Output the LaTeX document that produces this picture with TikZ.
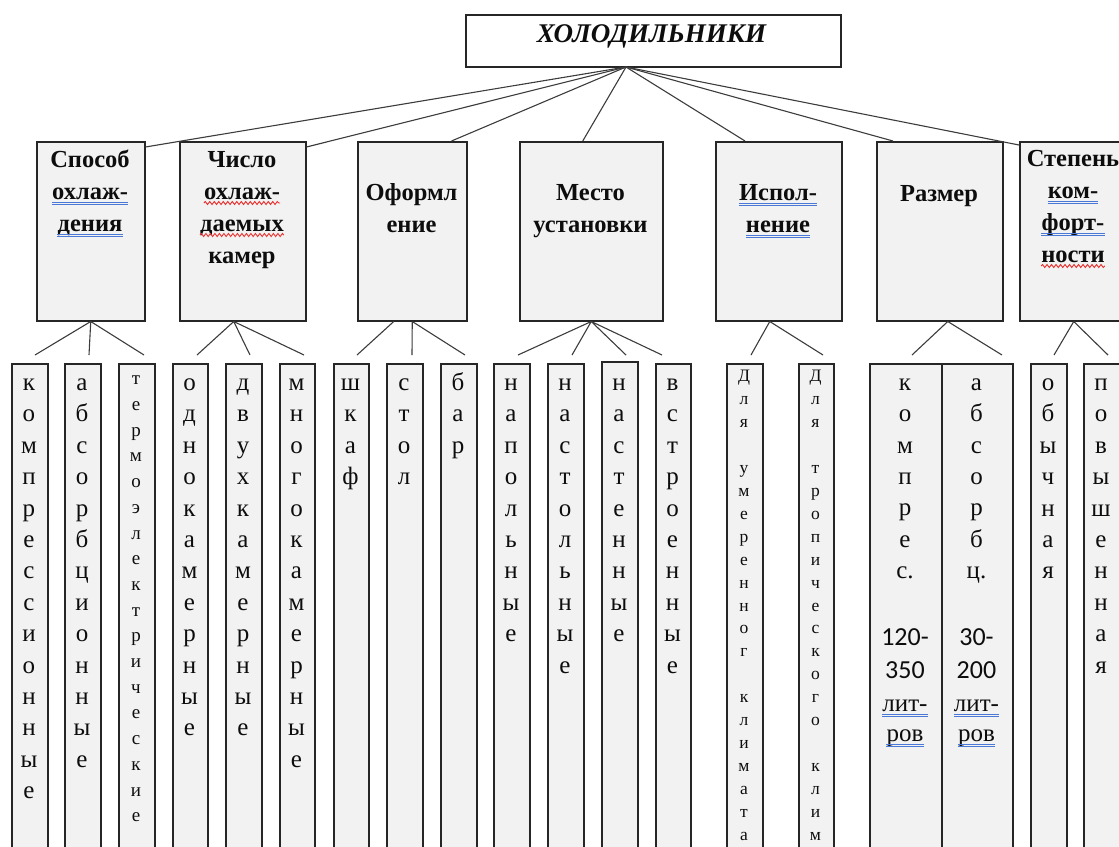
\documentclass[tikz,border=0pt]{standalone}
\usepackage{fontspec}
\setmainfont{Liberation Serif}
\newfontfamily\digitfont{Carlito}
\usetikzlibrary{decorations.pathmorphing}
\definecolor{boxfill}{HTML}{F2F2F2}
\definecolor{edgecol}{HTML}{262626}
\definecolor{conncol}{HTML}{3C3C3C}
\definecolor{ulblue}{HTML}{4A78D6}
\definecolor{ulred}{HTML}{E8312F}
\definecolor{inkcol}{HTML}{0D0D0D}
\tikzset{
  topbox/.style={draw=edgecol, line width=1.5pt, fill=white, rectangle, inner sep=0, anchor=north west, minimum height=52pt},
  catbox/.style={draw=edgecol, line width=1.5pt, fill=boxfill, rectangle, inner sep=0, anchor=north west, minimum height=179pt},
  leafbox/.style={draw=edgecol, line width=1.5pt, fill=boxfill, rectangle, inner sep=0, anchor=north west, minimum height=560pt},
  conn/.style={draw=conncol, line width=1.1pt},
  titletext/.style={font=\fontsize{27}{30}\selectfont\bfseries\itshape, text=inkcol, anchor=base, inner sep=0},
  cattext/.style={font=\fontsize{24.5}{28}\selectfont\bfseries, text=inkcol, anchor=base, inner sep=0},
  bigletter/.style={font=\fontsize{25}{30}\selectfont, text=inkcol, anchor=base, inner sep=0},
  midletter/.style={font=\fontsize{19}{24}\selectfont, text=inkcol, anchor=base, inner sep=0},
  smallletter/.style={font=\fontsize{17.5}{22}\selectfont, text=inkcol, anchor=base, inner sep=0},
  digittext/.style={font=\digitfont\fontsize{26}{30}\selectfont, text=inkcol, anchor=base, inner sep=0},
  blueline/.style={draw=ulblue, line width=0.9pt},
  redwave/.style={draw=ulred, line width=0.9pt, decorate, decoration={snake, amplitude=1.5pt, segment length=4.5pt}},
}
\newcommand\vletters[6]{%
  \foreach \ch [count=\i from 0] in {#6} {\node[#5] (#1-\i) at (#2, #3+\i*#4) {\ch};}}
\newcommand\dblul[1]{\draw[blueline] ([yshift=-3pt]#1.base west) -- ([yshift=-3pt]#1.base east) ([yshift=-5.8pt]#1.base west) -- ([yshift=-5.8pt]#1.base east);}
\newcommand\wavyul[1]{\draw[redwave] ([yshift=-4pt]#1.base west) -- ([yshift=-4pt]#1.base east);}
\begin{document}
\begin{tikzpicture}[x=1pt,y=-1pt]
\useasboundingbox (0,0) rectangle (1119,846);
\clip (0,0) rectangle (1119,846);

% top box
\node[topbox, minimum width=375pt] (top) at (465,14) {};
\node[titletext] (title) at (651.5,42) {ХОЛОДИЛЬНИКИ};
\coordinate (topo) at (626,67);

% category boxes
\node[catbox, minimum width=108pt] (b1) at (36,141) {};
\node[catbox, minimum width=126pt] (b2) at (179,141) {};
\node[catbox, minimum width=109pt] (b3) at (357,141) {};
\node[catbox, minimum width=143pt] (b4) at (519,141) {};
\node[catbox, minimum width=126pt] (b5) at (715,141) {};
\node[catbox, minimum width=126pt] (b6) at (876,141) {};
\node[catbox, minimum width=108pt] (b7) at (1019,141) {};

% top connectors
\draw[conn] (topo) -- ([yshift=-6pt]b1.north east);
\draw[conn] (topo) -- ([yshift=-6pt]b2.north east);
\draw[conn] (topo) -- ([xshift=-16pt]b3.north east);
\draw[conn] (topo) -- ([xshift=-8.5pt]b4.north);
\draw[conn] (topo) -- ([xshift=30pt]b5.north west);
\draw[conn] (topo) -- ([xshift=17pt]b6.north west);
\draw[conn] (topo) -- ([yshift=-4pt]b7.north west);

% category texts
\node[cattext] (b1t1) at (90,167) {Способ};
\node[cattext] (b1t2) at (90,199) {охлаж-};
\node[cattext] (b1t3) at (90,231) {дения};
\node[cattext] (b2t1) at (242,167) {Число};
\node[cattext] (b2t2) at (242,199) {охлаж-};
\node[cattext] (b2t3) at (242,231) {даемых};
\node[cattext] (b2t4) at (242,263) {камер};
\node[cattext] (b3t1) at (411.5,200) {Оформл};
\node[cattext] (b3t2) at (411.5,232) {ение};
\node[cattext] (b4t1) at (590.5,200) {Место};
\node[cattext] (b4t2) at (590.5,232) {установки};
\node[cattext] (b5t1) at (778,200) {Испол-};
\node[cattext] (b5t2) at (778,232) {нение};
\node[cattext] (b6t1) at (939,201) {Размер};
\node[cattext] (b7t1) at (1073,166) {Степень};
\node[cattext] (b7t2) at (1073,198) {ком-};
\node[cattext] (b7t3) at (1073,230) {форт-};
\node[cattext] (b7t4) at (1073,262) {ности};

\dblul{b1t2}\dblul{b1t3}
\wavyul{b2t2}\wavyul{b2t3}
\dblul{b5t1}\dblul{b5t2}
\dblul{b7t2}\dblul{b7t3}\wavyul{b7t4}

% end points of lower connectors
\coordinate (e1a) at (35,355);  \coordinate (e1b) at (89,355);  \coordinate (e1c) at (144,355);
\coordinate (e2a) at (197,355); \coordinate (e2b) at (250,355); \coordinate (e2c) at (304,355);
\coordinate (e3a) at (357,355); \coordinate (e3b) at (412,355); \coordinate (e3c) at (465,355);
\coordinate (e4a) at (518,355); \coordinate (e4b) at (572,355); \coordinate (e4c) at (626,355); \coordinate (e4d) at (662,355);
\coordinate (e5a) at (751,355); \coordinate (e5b) at (823,355);
\coordinate (e6a) at (912,355); \coordinate (e6b) at (1002,355);
\coordinate (e7a) at (1054,355); \coordinate (e7b) at (1108,355);

\draw[conn] (b1.south) -- (e1a) (b1.south) -- (e1b) (b1.south) -- (e1c);
\draw[conn] ([xshift=-9pt]b2.south) -- (e2a) ([xshift=-9pt]b2.south) -- (e2b) ([xshift=-9pt]b2.south) -- (e2c);
\draw[conn] ([xshift=-18.5pt]b3.south) -- (e3a) (b3.south) -- (e3b) (b3.south) -- (e3c);
\draw[conn] (b4.south) -- (e4a) (b4.south) -- (e4b) (b4.south) -- (e4c) (b4.south) -- (e4d);
\draw[conn] ([xshift=-9pt]b5.south) -- (e5a) ([xshift=-9pt]b5.south) -- (e5b);
\draw[conn] ([xshift=8pt]b6.south) -- (e6a) ([xshift=8pt]b6.south) -- (e6b);
\draw[conn] (b7.south) -- (e7a) (b7.south) -- (e7b);

% leaf columns
\node[leafbox, minimum width=36pt] (l1) at (11,363) {};
\node[leafbox, minimum width=36pt] (l2) at (64,363) {};
\node[leafbox, minimum width=36pt] (l3) at (118,363) {};
\node[leafbox, minimum width=35pt] (l4) at (172,363) {};
\node[leafbox, minimum width=36pt] (l5) at (225,363) {};
\node[leafbox, minimum width=35pt] (l6) at (279,363) {};
\node[leafbox, minimum width=35pt] (l7) at (333,363) {};
\node[leafbox, minimum width=36pt] (l8) at (386,363) {};
\node[leafbox, minimum width=36pt] (l9) at (440,363) {};
\node[leafbox, minimum width=36pt] (l10) at (493,363) {};
\node[leafbox, minimum width=36pt] (l11) at (547,363) {};
\node[leafbox, minimum width=36pt] (l12) at (601,361) {};
\node[leafbox, minimum width=35pt] (l13) at (655,363) {};
\node[leafbox, minimum width=36pt] (l14) at (726,363) {};
\node[leafbox, minimum width=35pt] (l15) at (798,363) {};
\node[leafbox, minimum width=72pt] (l16) at (869,363) {};
\node[leafbox, minimum width=71pt] (l17) at (941,363) {};
\node[leafbox, minimum width=36pt] (l18) at (1030,363) {};
\node[leafbox, minimum width=36pt] (l19) at (1083,363) {};

% letters
\vletters{k1}{29}{390.5}{31.4}{bigletter}{к,о,м,п,р,е,с,с,и,о,н,н,ы,е}
\vletters{k2}{82}{390.5}{31.4}{bigletter}{а,б,с,о,р,б,ц,и,о,н,н,ы,е}
\vletters{k3}{136}{384.8}{25.7}{midletter}{т,е,р,м,о,э,л,е,к,т,р,и,ч,е,с,к,и,е}
\vletters{k4}{189.5}{390.5}{31.4}{bigletter}{о,д,н,о,к,а,м,е,р,н,ы,е}
\vletters{k5}{243}{390.5}{31.4}{bigletter}{д,в,у,х,к,а,м,е,р,н,ы,е}
\vletters{k6}{296.5}{390.5}{31.4}{bigletter}{м,н,о,г,о,к,а,м,е,р,н,ы,е}
\vletters{k7}{350.5}{390.5}{31.4}{bigletter}{ш,к,а,ф}
\vletters{k8}{404}{390.5}{31.4}{bigletter}{с,т,о,л}
\vletters{k9}{458}{390.5}{31.4}{bigletter}{б,а,р}
\vletters{k10}{511}{390.5}{31.4}{bigletter}{н,а,п,о,л,ь,н,ы,е}
\vletters{k11}{565}{390.5}{31.4}{bigletter}{н,а,с,т,о,л,ь,н,ы,е}
\vletters{k12}{619}{390.5}{31.4}{bigletter}{н,а,с,т,е,н,н,ы,е}
\vletters{k13}{672.5}{390.5}{31.4}{bigletter}{в,с,т,р,о,е,н,н,ы,е}
\vletters{k14}{744}{381.5}{22.95}{smallletter}{Д,л,я,{},у,м,е,р,е,н,н,о,г,{},к,л,и,м,а,т,а}
\vletters{k15}{815.5}{381.5}{22.95}{smallletter}{Д,л,я,{},т,р,о,п,и,ч,е,с,к,о,г,о,{},к,л,и,м}
\vletters{k16}{905}{390.5}{31.3}{bigletter}{к,о,м,п,р,е,с.}
\vletters{k17}{976.5}{390.5}{31.3}{bigletter}{а,б,с,о,р,б,ц.}
\vletters{k18}{1048}{390.5}{31.4}{bigletter}{о,б,ы,ч,н,а,я}
\vletters{k19}{1101}{390.5}{31.4}{bigletter}{п,о,в,ы,ш,е,н,н,а,я}

\node[digittext] (n1a) at (905,645) {120-};
\node[digittext] (n1b) at (905,678) {350};
\node[bigletter] (n1c) at (905,711) {лит-};
\node[bigletter] (n1d) at (905,741) {ров};
\node[digittext] (n2a) at (976.5,645) {30-};
\node[digittext] (n2b) at (976.5,678) {200};
\node[bigletter] (n2c) at (976.5,711) {лит-};
\node[bigletter] (n2d) at (976.5,741) {ров};
\dblul{n1c}\dblul{n1d}\dblul{n2c}\dblul{n2d}
\end{tikzpicture}
\end{document}
